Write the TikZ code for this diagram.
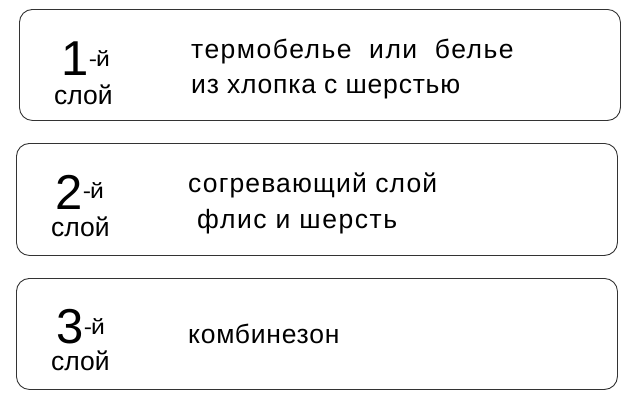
\documentclass[tikz,border=0pt]{standalone}
\usepackage{fontspec}
\setmainfont{Liberation Sans}
\newcommand{\ls}[2]{{\addfontfeatures{LetterSpace=#1}#2}}
\newcommand{\supj}{\scalebox{1.15}[1]{-\kern-0.8pt й}}
\begin{document}
\begin{tikzpicture}[x=1pt,y=-1pt,
  box/.style={draw=black!80, line width=0.9pt, rounded corners=13pt, anchor=north west, inner sep=0pt},
  txt/.style={anchor=base west, inner sep=0pt, font=\fontsize{26.5}{30}\selectfont},
  digit/.style={anchor=base west, inner sep=0pt, font=\fontsize{49}{60}\selectfont},
  sup/.style={anchor=base west, inner sep=0pt, font=\fontsize{21.5}{24}\selectfont},
  layer/.style={anchor=base west, inner sep=0pt, font=\fontsize{26.5}{30}\selectfont}]
\useasboundingbox (0,0) rectangle (636,400);
% boxes
\node[box, minimum width=601pt, minimum height=111pt] (b1) at (19,9) {};
\node[box, minimum width=601pt, minimum height=112pt] (b2) at (16,143) {};
\node[box, minimum width=601pt, minimum height=111pt] (b3) at (16,278) {};
% box 1
\node[digit] (d1) at (61,75) {1};
\node[sup, yshift=9pt] (s1) at (d1.base east) {\supj};
\node[layer] (l1) at (54,104) {слой};
\node[txt] (t1a) at (191,58) {\ls{5.6}{термобелье\ \ или\ \ белье}};
\node[txt] (t1b) at (191,93) {\ls{3}{из хлопка с шерстью}};
% box 2
\node[digit] (d2) at (55,209) {2};
\node[sup, yshift=11pt] (s2) at (d2.base east) {\supj};
\node[layer] (l2) at (51,236) {слой};
\node[txt] (t2a) at (188,192) {\ls{4.3}{согревающий слой}};
\node[txt] (t2b) at (197,228) {\ls{6}{флис и шерсть}};
% box 3
\node[digit] (d3) at (56,343) {3};
\node[sup, yshift=9pt] (s3) at (d3.base east) {\supj};
\node[layer] (l3) at (51,370) {слой};
\node[txt] (t3) at (188,343) {\ls{2.8}{комбинезон}};
\end{tikzpicture}
\end{document}
